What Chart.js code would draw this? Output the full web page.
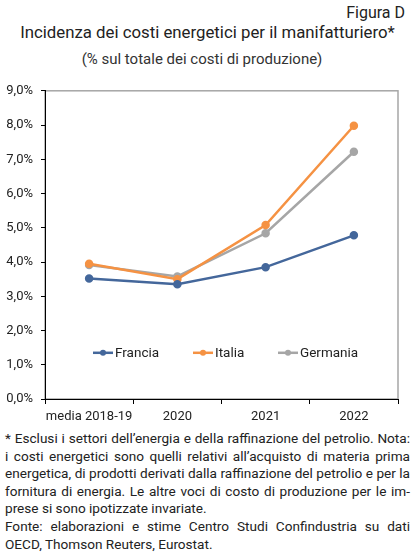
<!DOCTYPE html>
<html lang="it">
  <head>
    <meta charset="UTF-8" />
    <title>Incidenza dei costi energetici</title>
    <script src="https://cdn.jsdelivr.net/npm/chart.js"></script>
    <style>
      body {
        margin: 0;
        width: 417px;
        height: 559px;
        background: #fff;
        font-family: Roboto, "Noto Sans", sans-serif;
        color: #222;
        position: relative;
        overflow: hidden;
      }
      .fig {
        position: absolute;
        right: 12px;
        top: 3px;
        font-size: 16px;
      }
      .titolo {
        position: absolute;
        left: 0;
        width: 415px;
        top: 22px;
        text-align: center;
        font-size: 16.8px;
      }
      .sotto {
        position: absolute;
        left: 0;
        width: 404px;
        top: 50px;
        text-align: center;
        font-size: 15px;
        color: #333;
      }
      #box {
        position: absolute;
        left: 0;
        top: 75px;
        width: 417px;
        height: 350px;
      }
      .note {
        position: absolute;
        left: 5px;
        top: 430px;
        width: 405px;
        font-size: 13.6px;
        line-height: 17.6px;
        color: #222;
      }
      .note div {
        text-align: justify;
        text-align-last: justify;
        white-space: nowrap;
      }
      .note div.l {
        text-align-last: left;
      }
    </style>
  </head>
  <body>
    <div class="fig">Figura D</div>
    <div class="titolo">Incidenza dei costi energetici per il manifatturiero*</div>
    <div class="sotto">(% sul totale dei costi di produzione)</div>
    <div id="box"><canvas id="grafico"></canvas></div>
    <div class="note">
      <div>* Esclusi i settori dell’energia e della raffinazione del petrolio. Nota:</div>
      <div>i costi energetici sono quelli relativi all’acquisto di materia prima</div>
      <div>energetica, di prodotti derivati dalla raffinazione del petrolio e per la</div>
      <div>fornitura di energia. Le altre voci di costo di produzione per le im-</div>
      <div class="l">prese si sono ipotizzate invariate.</div>
      <div>Fonte: elaborazioni e stime Centro Studi Confindustria su dati</div>
      <div class="l">OECD, Thomson Reuters, Eurostat.</div>
    </div>

    <script>
      // dati
      const periodi = ["media 2018-19", "2020", "2021", "2022"];
      const francia = [3.52, 3.35, 3.85, 4.78];
      const italia = [3.95, 3.5, 5.08, 7.98];
      const germania = [3.91, 3.58, 4.84, 7.22];
      const yTicks = [0, 1, 2, 3, 4, 5, 6, 7, 8, 9];

      // cornice grigia in alto e a destra
      const cornice = {
        id: "cornice",
        beforeDraw(chart) {
          const { ctx, chartArea: a } = chart;
          ctx.save();
          ctx.strokeStyle = "#a6a6a6";
          ctx.lineWidth = 1.5;
          ctx.strokeRect(a.left, a.top, a.right - a.left, a.bottom - a.top);
          ctx.restore();
        },
      };

      // legenda dentro l'area del grafico
      const legendaInterna = {
        id: "legendaInterna",
        afterDraw(chart) {
          const { ctx, chartArea: a } = chart;
          const y = a.top + 262;
          const xs = [a.left + 48, a.left + 148, a.left + 233];
          ctx.save();
          ctx.font = "13.5px Roboto";
          ctx.textBaseline = "middle";
          chart.data.datasets.forEach((ds, i) => {
            const x = xs[i];
            ctx.strokeStyle = ds.borderColor;
            ctx.lineWidth = 2.5;
            ctx.beginPath();
            ctx.moveTo(x, y);
            ctx.lineTo(x + 20, y);
            ctx.stroke();
            ctx.fillStyle = ds.borderColor;
            ctx.beginPath();
            ctx.arc(x + 10, y, 3, 0, Math.PI * 2);
            ctx.fill();
            ctx.fillStyle = "#222";
            ctx.fillText(ds.label, x + 22, y + 1);
          });
          ctx.restore();
        },
      };

      const serie = (label, data, colore) => ({
        label: label,
        data: data,
        borderColor: colore,
        backgroundColor: colore,
        borderWidth: 2.5,
        pointRadius: 3,
        pointHoverRadius: 3,
        tension: 0,
      });

      new Chart(document.getElementById("grafico"), {
        type: "line",
        data: {
          labels: periodi,
          datasets: [
            serie("Francia", francia, "#44679b"),
            serie("Italia", italia, "#f59243"),
            serie("Germania", germania, "#a6a6a6"),
          ],
        },
        options: {
          responsive: true,
          maintainAspectRatio: false,
          animation: false,
          layout: { padding: { left: 0, right: 19, top: 13, bottom: 0 } },
          plugins: {
            legend: { display: false },
            tooltip: { enabled: false },
          },
          scales: {
            x: {
              offset: true,
              grid: {
                offset: true,
                drawOnChartArea: false,
                color: "#000",
                tickLength: 5,
              },
              border: { color: "#000", width: 1 },
              ticks: {
                color: "#222",
                font: { family: "Roboto", size: 13 },
                padding: 5,
                maxRotation: 0,
                autoSkip: false,
              },
              afterFit(s) {
                s.height = 26;
              },
            },
            y: {
              min: 0,
              max: 9,
              afterBuildTicks(s) {
                s.ticks = yTicks.map((v) => ({ value: v }));
              },
              grid: {
                drawOnChartArea: false,
                color: "#000",
                tickLength: 4,
              },
              border: { color: "#000", width: 1 },
              ticks: {
                color: "#222",
                font: { family: "Roboto", size: 13 },
                padding: 8,
                callback: (v) => v.toFixed(1).replace(".", ",") + "%",
              },
              afterFit(s) {
                s.width = 45;
              },
            },
          },
        },
        plugins: [cornice, legendaInterna],
      });
    </script>
  </body>
</html>
